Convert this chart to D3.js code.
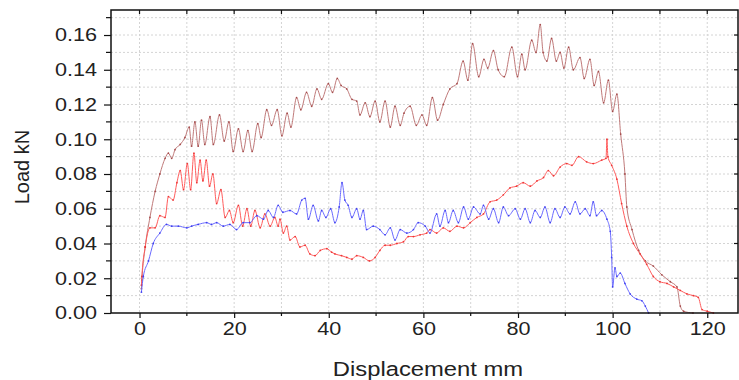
<!DOCTYPE html>
<html>
<head>
<meta charset="utf-8">
<script src="https://cdn.jsdelivr.net/npm/d3@7"></script>
<style>
  body { margin: 0; background: #fff; }
  text { font-family: "Liberation Sans", Arial, sans-serif; fill: #222; }
</style>
</head>
<body>
<div id="chart"></div>
<script>
// tick values
var xTicks = [0, 20, 40, 60, 80, 100, 120];
var yTicks = [0, 0.02, 0.04, 0.06, 0.08, 0.10, 0.12, 0.14, 0.16];

// brown series (top curve)
var brownX = [0.4,0.5,1.2,2.2,3.3,4.3,5.4,6.1,6.8,7.5,8.6,9.6,10.5,11.0,11.7,12.4,13.1,13.8,14.9,15.6,16.9,17.9,18.9,19.8,20.9,21.9,22.9,23.8,25.0,25.7,26.9,27.9,29.1,30.1,31.2,32.0,33.2,34.1,35.3,36.4,37.5,38.5,39.9,40.8,41.8,42.6,43.8,44.9,45.9,46.6,47.7,48.7,49.8,50.8,51.9,53.0,54.0,55.1,55.9,57.2,58.5,59.7,60.7,61.9,63.0,64.2,65.6,67.1,68.4,69.4,70.4,71.7,72.8,73.6,74.8,75.8,77.1,78.7,79.9,80.8,81.5,82.9,83.8,84.7,85.3,86.1,87.1,88.1,88.9,89.7,90.7,91.7,93.1,94.0,95.2,96.1,97.0,98.1,99.1,100.0,100.9,101.7,102.6,103.0,104.1,105.5,106.9,108.6,110.4,112.2,113.6,114.3,115.0,117.0];
var brownY = [0.014,0.019,0.038,0.055,0.070,0.080,0.089,0.092,0.089,0.094,0.097,0.101,0.107,0.096,0.110,0.096,0.111,0.097,0.113,0.097,0.114,0.099,0.110,0.093,0.106,0.093,0.105,0.093,0.109,0.101,0.117,0.108,0.117,0.102,0.115,0.107,0.124,0.117,0.127,0.119,0.129,0.123,0.132,0.127,0.135,0.131,0.129,0.123,0.122,0.114,0.121,0.113,0.122,0.110,0.122,0.107,0.119,0.108,0.115,0.119,0.108,0.114,0.108,0.124,0.111,0.120,0.129,0.132,0.145,0.134,0.155,0.136,0.146,0.141,0.151,0.140,0.136,0.153,0.136,0.149,0.140,0.157,0.150,0.166,0.150,0.145,0.158,0.145,0.150,0.141,0.153,0.140,0.147,0.135,0.146,0.131,0.139,0.121,0.134,0.116,0.126,0.103,0.080,0.061,0.048,0.036,0.030,0.027,0.022,0.018,0.015,0.004,0.001,0.000];

// red series
var redX = [0.4,0.5,1.2,2.2,3.3,4.3,5.4,6.1,7.1,7.9,8.6,9.3,10.1,10.8,11.5,12.1,12.8,13.4,14.1,14.8,15.5,16.3,17.2,18.1,19.0,19.8,20.9,21.8,22.7,23.5,24.4,25.5,26.5,27.6,28.6,29.3,29.7,30.4,31.1,31.8,32.9,33.9,35.0,36.0,37.1,38.2,39.6,40.6,41.3,42.7,43.8,44.9,45.9,47.3,48.6,49.8,50.8,51.9,53.0,54.4,55.8,56.8,57.9,59.3,60.7,61.4,62.8,64.2,65.6,67.1,68.5,69.9,71.3,72.7,74.1,75.5,76.9,78.3,79.7,81.1,82.6,84.0,85.4,86.4,87.5,88.9,90.3,91.4,92.8,94.5,95.9,97.7,98.6,98.8,99.0,99.8,100.9,101.9,103.0,104.4,105.8,107.2,108.6,110.0,111.5,112.9,114.3,115.7,117.1,118.1,118.9,120.0,121.3];
var redY = [0.016,0.021,0.038,0.049,0.049,0.056,0.055,0.067,0.065,0.075,0.082,0.071,0.086,0.071,0.092,0.075,0.088,0.076,0.088,0.073,0.080,0.063,0.071,0.055,0.059,0.052,0.062,0.050,0.060,0.050,0.059,0.049,0.057,0.050,0.055,0.050,0.054,0.046,0.050,0.042,0.044,0.038,0.039,0.034,0.033,0.036,0.037,0.035,0.034,0.033,0.032,0.031,0.033,0.032,0.030,0.032,0.036,0.039,0.039,0.040,0.041,0.044,0.044,0.045,0.046,0.048,0.046,0.049,0.047,0.050,0.049,0.052,0.055,0.057,0.064,0.065,0.068,0.072,0.073,0.075,0.073,0.076,0.078,0.082,0.079,0.084,0.086,0.085,0.090,0.087,0.086,0.088,0.089,0.100,0.090,0.085,0.077,0.063,0.050,0.040,0.034,0.028,0.021,0.018,0.017,0.015,0.013,0.011,0.010,0.009,0.002,0.001,0.000];

// blue series
var blueX = [0.4,0.8,1.9,2.9,4.3,5.7,6.8,8.2,10.0,11.0,12.4,14.2,15.2,16.3,17.7,19.1,20.5,21.9,23.3,24.8,26.2,27.2,28.3,29.3,30.3,31.8,33.2,34.3,35.0,35.7,36.7,37.8,38.5,39.4,40.4,41.3,42.2,42.8,43.4,44.1,44.9,45.9,46.6,47.3,48.0,49.4,50.8,51.9,53.0,54.0,55.1,56.5,57.9,58.9,60.4,61.4,62.8,63.5,64.6,65.3,66.3,67.4,68.5,69.5,70.6,72.0,72.7,73.8,74.8,75.9,76.9,78.0,79.4,80.5,81.5,82.6,83.6,84.7,85.7,86.8,87.8,88.9,89.9,91.0,92.1,93.1,94.2,95.2,95.9,96.6,97.7,98.8,99.5,99.8,100.0,100.5,100.9,101.6,102.6,103.7,105.1,106.2,106.9,107.6];
var blueY = [0.012,0.021,0.030,0.040,0.046,0.051,0.050,0.050,0.049,0.050,0.051,0.052,0.051,0.052,0.050,0.051,0.048,0.052,0.052,0.056,0.054,0.059,0.055,0.062,0.058,0.059,0.057,0.065,0.066,0.054,0.062,0.053,0.059,0.055,0.060,0.052,0.061,0.075,0.065,0.062,0.055,0.060,0.054,0.059,0.048,0.050,0.048,0.045,0.049,0.042,0.048,0.046,0.048,0.052,0.050,0.046,0.057,0.050,0.059,0.052,0.059,0.052,0.061,0.054,0.061,0.057,0.062,0.054,0.060,0.052,0.061,0.056,0.060,0.054,0.060,0.052,0.059,0.055,0.061,0.052,0.060,0.055,0.061,0.057,0.064,0.057,0.060,0.056,0.064,0.056,0.059,0.054,0.047,0.032,0.015,0.026,0.021,0.023,0.017,0.011,0.008,0.007,0.004,0.000];

var W = 739, H = 380;
var pLeft = 111, pRight = 738, pTop = 10, pBottom = 313;

var svg = d3.select("#chart")
  .append("svg")
  .attr("width", W)
  .attr("height", H);

var x = d3.scaleLinear().domain([-6.03, 126.5]).range([pLeft, pRight]);
var y = d3.scaleLinear().domain([0, 0.1744]).range([pBottom, pTop]);

// grid, every 10 mm and every 0.01 kN
var gx = d3.range(0, 130, 10), gy = d3.range(0.01, 0.175, 0.01);
svg.append("g").selectAll("line").data(gx).enter().append("line")
  .attr("x1", function(d) { return x(d); }).attr("x2", function(d) { return x(d); })
  .attr("y1", pTop).attr("y2", pBottom)
  .attr("stroke", "#d4d4d4").attr("stroke-dasharray", "2,2");
svg.append("g").selectAll("line").data(gy).enter().append("line")
  .attr("y1", function(d) { return y(d); }).attr("y2", function(d) { return y(d); })
  .attr("x1", pLeft).attr("x2", pRight)
  .attr("stroke", "#d4d4d4").attr("stroke-dasharray", "2,2");

// series
var series = [
  {xs: brownX, ys: brownY, line: "#c07a7a", dot: "#993333"},
  {xs: redX, ys: redY, line: "#ff5c5c", dot: "#e82020"},
  {xs: blueX, ys: blueY, line: "#6a6aff", dot: "#2a2aee"}
];
var line = d3.line()
  .curve(d3.curveMonotoneX)
  .x(function(d) { return x(d[0]); })
  .y(function(d) { return y(d[1]); });

series.forEach(function(s) {
  var pts = s.xs.map(function(v, i) { return [v, s.ys[i]]; });
  svg.append("path").datum(pts)
    .attr("d", line)
    .attr("fill", "none")
    .attr("stroke", s.line)
    .attr("stroke-width", 1);
  svg.append("g").selectAll("circle").data(pts).enter().append("circle")
    .attr("cx", function(d) { return x(d[0]); })
    .attr("cy", function(d) { return y(d[1]); })
    .attr("r", 0.9)
    .attr("fill", s.dot)
    .attr("opacity", 0.8);
});

// frame
svg.append("rect")
  .attr("x", pLeft).attr("y", pTop)
  .attr("width", pRight - pLeft).attr("height", pBottom - pTop)
  .attr("fill", "none").attr("stroke", "#111").attr("stroke-width", 1.5);

// axes
var xAxis = d3.axisBottom(x).tickValues(xTicks).tickSize(5).tickFormat(d3.format("d"));
var gX = svg.append("g").attr("transform", "translate(0," + pBottom + ")").call(xAxis);
gX.select(".domain").remove();
gX.selectAll("text")
  .attr("font-size", 18)
  .attr("y", 9)
  .attr("dy", "0.75em")
  .attr("transform", "scale(1.2,1)");
gX.selectAll("line").attr("stroke", "#111").attr("stroke-width", 1.2);

var yAxis = d3.axisLeft(y).tickValues(yTicks).tickSize(7).tickFormat(d3.format(".2f"));
var gY = svg.append("g").attr("transform", "translate(" + pLeft + ",0)").call(yAxis);
gY.select(".domain").remove();
gY.selectAll("text")
  .attr("font-size", 18)
  .attr("x", -14 / 1.2)
  .attr("transform", "scale(1.2,1)");
gY.selectAll("line").attr("stroke", "#111").attr("stroke-width", 1.2);

// minor ticks
var minorX = [10, 30, 50, 70, 90, 110];
svg.append("g").selectAll("line").data(minorX).enter().append("line")
  .attr("x1", function(d) { return x(d); }).attr("x2", function(d) { return x(d); })
  .attr("y1", pBottom).attr("y2", pBottom + 3)
  .attr("stroke", "#111").attr("stroke-width", 1.2);
var minorY = [0.01, 0.03, 0.05, 0.07, 0.09, 0.11, 0.13, 0.15, 0.17];
svg.append("g").selectAll("line").data(minorY).enter().append("line")
  .attr("y1", function(d) { return y(d); }).attr("y2", function(d) { return y(d); })
  .attr("x1", pLeft - 5).attr("x2", pLeft)
  .attr("stroke", "#111").attr("stroke-width", 1.2);
// top ticks (inward)
svg.append("g").selectAll("line").data(gx).enter().append("line")
  .attr("x1", function(d) { return x(d); }).attr("x2", function(d) { return x(d); })
  .attr("y1", pTop).attr("y2", pTop + 4)
  .attr("stroke", "#111").attr("stroke-width", 1.2);
// right ticks (inward)
svg.append("g").selectAll("line").data(yTicks.slice(1)).enter().append("line")
  .attr("y1", function(d) { return y(d); }).attr("y2", function(d) { return y(d); })
  .attr("x1", pRight - 4).attr("x2", pRight)
  .attr("stroke", "#111").attr("stroke-width", 1.2);

// axis titles
svg.append("text")
  .attr("transform", "translate(428,376) scale(1.19,1)")
  .attr("text-anchor", "middle")
  .attr("font-size", 20)
  .text("Displacement mm");

svg.append("text")
  .attr("transform", "translate(29,167) rotate(-90)")
  .attr("text-anchor", "middle")
  .attr("font-size", 20)
  .text("Load kN");
</script>
</body>
</html>
